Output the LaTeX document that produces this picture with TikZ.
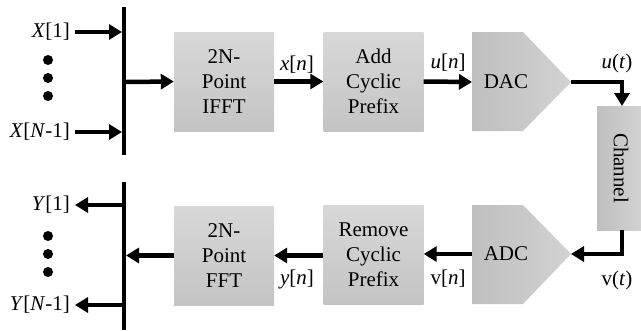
\documentclass[tikz,border=0pt]{standalone}
\usepackage{fontspec}
\setmainfont{Liberation Serif}
\usetikzlibrary{arrows.meta}
\definecolor{btop}{HTML}{D8D8D8}
\definecolor{bbot}{HTML}{C4C4C4}
\definecolor{sleft}{HTML}{BFBFBF}
\definecolor{sright}{HTML}{D2D2D2}
\tikzset{
  blk/.style={minimum width=100pt, minimum height=99pt, inner sep=0pt, top color=btop, bottom color=bbot, draw=none, align=center, font=\fontsize{21}{25}\selectfont},
  lbl/.style={inner sep=0pt, font=\fontsize{21}{24}\selectfont},
  txt/.style={inner sep=0pt, font=\fontsize{21}{25}\selectfont},
  sig/.style={line width=4.5pt, -{Triangle[length=13pt,width=15pt]}},
  bar/.style={line width=4pt},
  dotm/.style={circle, fill=black, inner sep=0pt, minimum size=10pt},
}
\begin{document}
\begin{tikzpicture}[x=1pt,y=-1pt]
\useasboundingbox (0,0) rectangle (641,330);
% top row
\node[blk] (ifft) at (224,81.5) {2N-\\Point\\IFFT};
\node[blk] (acp) at (373.5,81.5) {Add\\Cyclic\\Prefix};
\shade[left color=sleft, right color=sright] (472,32) -- (523,32) -- (571,82) -- (523,131) -- (472,131) -- cycle;
\node[txt] (dac) at (506,82) {DAC};
\coordinate (dacin) at (472,82);
\coordinate (dacout) at (571,82);
% channel
\shade[left color=sleft, right color=sright] (597,106) rectangle (641,230);
\node[txt, rotate=-90] (ch) at (621,168) {Channel};
\coordinate (chtop) at (622,106);
\coordinate (chbot) at (622,230);
% bottom row
\node[blk] (rcp) at (373.5,254.5) {Remove\\Cyclic\\Prefix};
\node[blk] (fft) at (224,255.5) {2N-\\Point\\FFT};
\shade[left color=sleft, right color=sright] (472,205) -- (523,205) -- (571,254) -- (523,304) -- (472,304) -- cycle;
\node[txt] (adc) at (506,254) {ADC};
\coordinate (adcin) at (571,254);
\coordinate (adcout) at (472,254);
% left bars
\coordinate (tb1) at (124,7);
\coordinate (tb2) at (124,155);
\draw[bar] (tb1) -- (tb2);
\coordinate (bb1) at (124,182);
\coordinate (bb2) at (124,330);
\draw[bar] (bb1) -- (bb2);
% input labels
\node[lbl, anchor=east] (x1) at (70,32) {\textit{X}[1]};
\node[lbl, anchor=east] (xn) at (70,132) {\textit{X}[\textit{N}-1]};
\node[dotm] (d1) at (48,60) {};
\node[dotm] (d2) at (48,78) {};
\node[dotm] (d3) at (48,96) {};
\node[lbl, anchor=east] (y1) at (70,205) {\textit{Y}[1]};
\node[lbl, anchor=east] (yn) at (70,305) {\textit{Y}[\textit{N}-1]};
\node[dotm] (e1) at (48,236) {};
\node[dotm] (e2) at (48,254) {};
\node[dotm] (e3) at (48,272) {};
% arrows
\draw[sig] ([xshift=5pt]x1.east) -- (122,32);
\draw[sig] ([xshift=5pt]xn.east) -- (122,132);
\draw[sig] (126,82) -- (ifft.west);
\draw[sig] (ifft.east) -- (acp.west |- ifft.east);
\draw[sig] (acp.east) -- (dacin);
\draw[sig] (dacout) -| (chtop);
\draw[sig] (chbot) |- (adcin);
\draw[sig] (adcout) -- (rcp.east |- adcout);
\draw[sig] (rcp.west |- fft.east) -- (fft.east);
\draw[sig] (fft.west) -- (126,255.5);
\draw[sig] (122,205) -- ([xshift=5pt]y1.east);
\draw[sig] (122,305) -- ([xshift=5pt]yn.east);
% signal labels
\node[lbl] (lx) at (297,65) {\textit{x}[\textit{n}]};
\node[lbl] (lu) at (448,63) {\textit{u}[\textit{n}]};
\node[lbl] (lut) at (617,63) {\textit{u}(\textit{t})};
\node[lbl] (ly) at (297,279) {\textit{y}[\textit{n}]};
\node[lbl] (lv) at (448,279) {v[\textit{n}]};
\node[lbl] (lvt) at (617,280) {v(\textit{t})};
\end{tikzpicture}
\end{document}
